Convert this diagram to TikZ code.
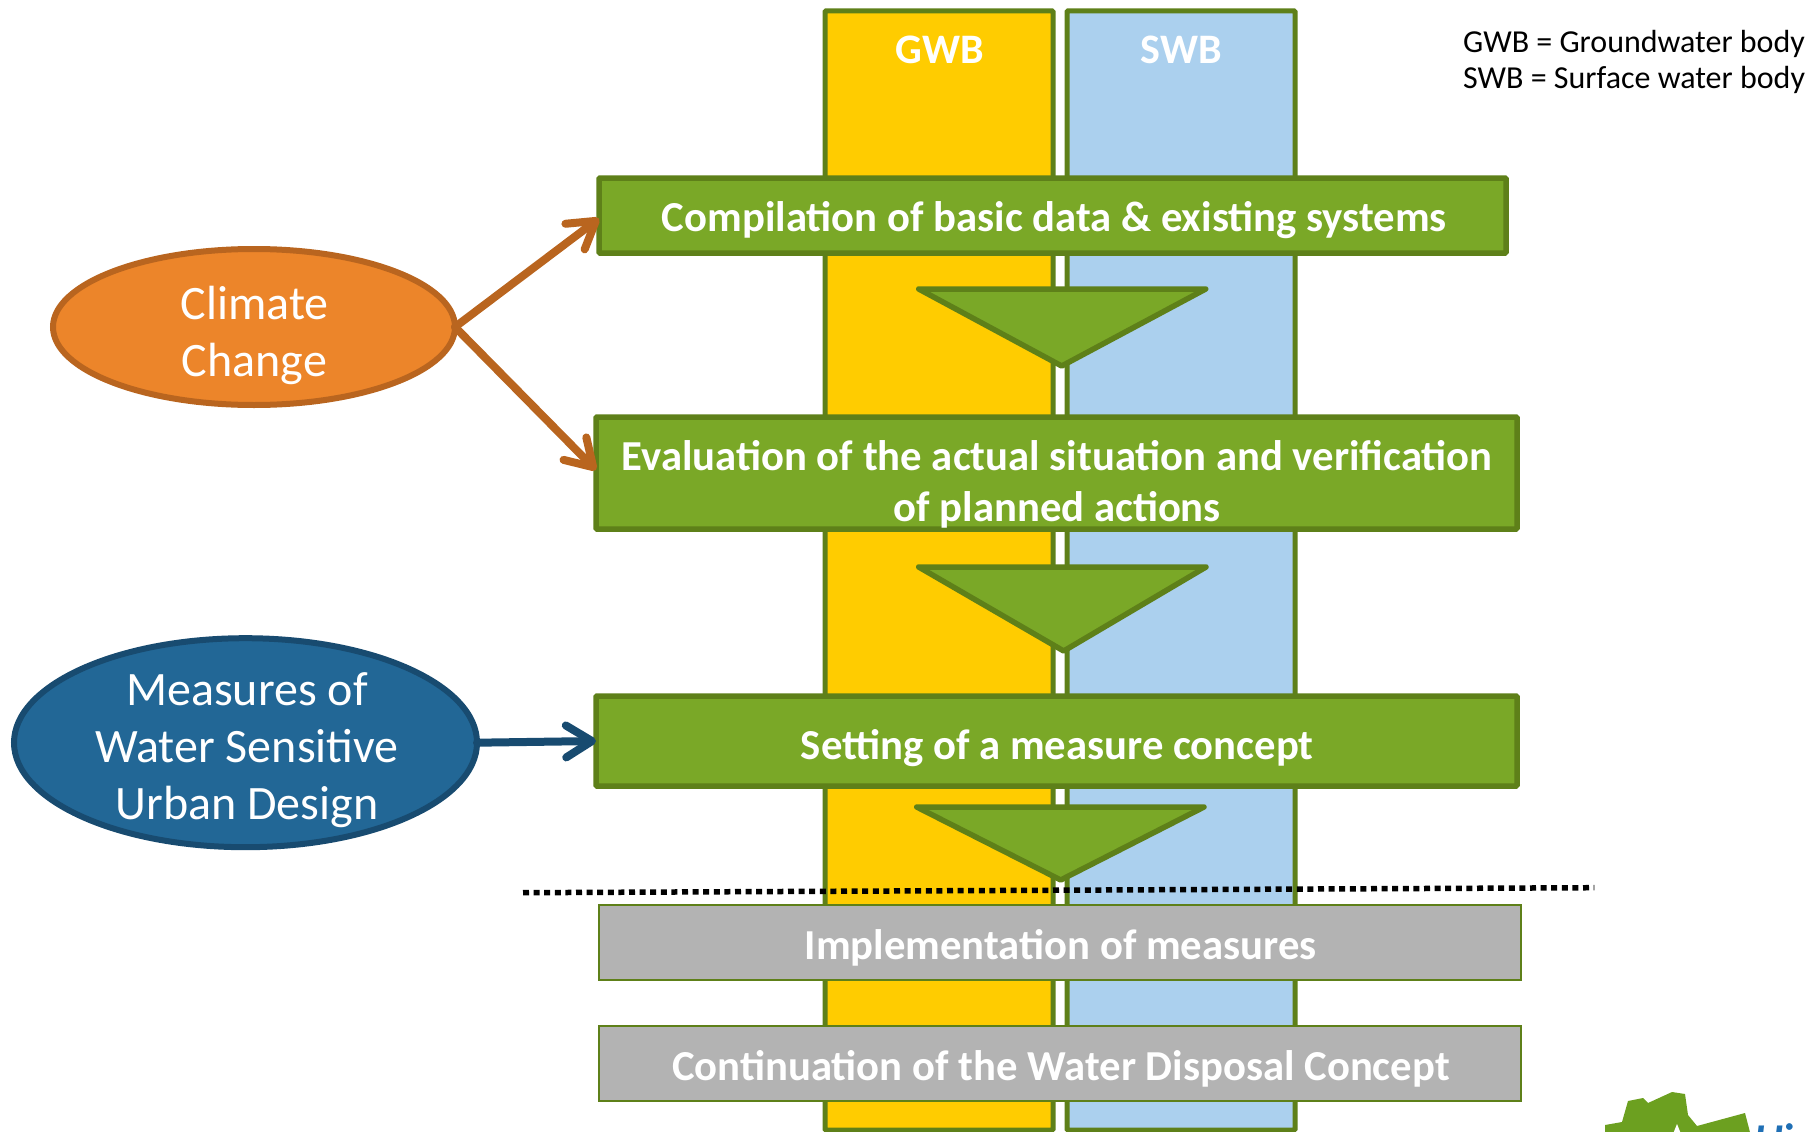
\documentclass[tikz,border=0pt]{standalone}
\usepackage{fontspec}
\setmainfont{Carlito}
\usetikzlibrary{shapes.geometric,arrows.meta}
\definecolor{gstroke}{HTML}{5E8019}
\definecolor{gfill}{HTML}{7AA827}
\definecolor{gwbc}{HTML}{FFCC00}
\definecolor{swbc}{HTML}{ABD0EE}
\definecolor{grayc}{HTML}{B3B3B3}
\definecolor{orf}{HTML}{EC852A}
\definecolor{ors}{HTML}{B9651F}
\definecolor{blf}{HTML}{226796}
\definecolor{bls}{HTML}{184B70}
\definecolor{logog}{HTML}{6CA020}
\definecolor{logob}{HTML}{1F6FB5}
\tikzset{
  col/.style={draw=gstroke,line width=5pt,minimum width=228pt,minimum height=1119pt,inner sep=0pt,outer sep=0pt,rounded corners=1pt},
  collabel/.style={text=white,font=\bfseries\fontsize{42}{50}\selectfont,inner sep=0pt},
  gbox/.style={draw=gstroke,fill=gfill,line width=5.5pt,inner sep=0pt,outer sep=0pt,rounded corners=1pt},
  greybox/.style={draw=gstroke,fill=grayc,line width=2pt,inner sep=0pt,outer sep=0pt},
  boxtext/.style={text=white,font=\bfseries\fontsize{42.7}{51}\selectfont,align=center,inner sep=0pt},
  tri/.style={draw=gstroke,fill=gfill,line width=5.5pt,line join=round},
  oval/.style={ellipse,line width=6pt,inner sep=0pt,outer sep=0pt},
  ovaltext/.style={text=white,font=\fontsize{48}{57}\selectfont,align=center,inner sep=0pt},
  barb/.style={line width=8pt,-{Straight Barb[length=26pt,width=32pt,round,line width=8pt]},line cap=round},
}
\begin{document}
\begin{tikzpicture}[x=1pt,y=-1pt]
\useasboundingbox (0,0) rectangle (1818,1132);
% columns
\node[col,fill=gwbc] (gwb) at (939,570.5) {};
\node[col,fill=swbc] (swb) at (1181,570.5) {};
\node[collabel] (gwbl) at (940,50) {GWB};
\node[collabel] (swbl) at (1181.5,50) {SWB};
% legend
\node[anchor=west,align=left,inner sep=0pt,font=\fontsize{32}{36}\selectfont] (leg) at (1463,61.5) {GWB = Groundwater body\\SWB = Surface water body};
% boxes
\node[gbox,minimum width=907pt,minimum height=75pt] (b1) at (1052.5,215.5) {};
\node[boxtext] (b1t) at (1054.3,220) {Compilation of basic data \& existing systems};
\node[gbox,minimum width=921pt,minimum height=112pt] (b2) at (1056.5,473) {};
\node[boxtext] (b2t) at (1057.2,484) {Evaluation of the actual situation and verification\\of planned actions};
\node[gbox,minimum width=921pt,minimum height=90pt] (b3) at (1056.5,741) {};
\node[boxtext] (b3t) at (1057.3,748) {Setting of a measure concept};
% triangles
\draw[tri] (918.7,289) -- (1205.7,289) -- (1061.7,366) -- cycle;
\draw[tri] (918.7,567) -- (1206,567) -- (1063.7,651) -- cycle;
\draw[tri] (916.7,807) -- (1204,807) -- (1060.7,880) -- cycle;
% dotted line
\coordinate (dl) at (523,892.7);
\coordinate (dr) at (1594.4,887.7);
\draw[line width=5.5pt,dash pattern=on 6pt off 4.6pt] (dl) -- (dr);
% grey boxes
\node[greybox,minimum width=922pt,minimum height=75pt] (b4) at (1060,942) {};
\node[boxtext] (b4t) at (1060.7,948) {Implementation of measures};
\node[greybox,minimum width=922pt,minimum height=75pt] (b5) at (1060,1063) {};
\node[boxtext] (b5t) at (1061,1069) {Continuation of the Water Disposal Concept};
% ovals
\node[oval,draw=ors,fill=orf,minimum width=402pt,minimum height=156pt] (clim) at (254,327) {};
\node[ovaltext] (climt) at (254.5,335) {Climate\\Change};
\node[oval,draw=bls,fill=blf,minimum width=463pt,minimum height=209pt] (wsud) at (245.5,742.7) {};
\node[ovaltext] (wsudt) at (247,750.5) {Measures of\\Water Sensitive\\Urban Design};
% connectors
\draw[barb,draw=ors] (clim.east) -- ([yshift=-3pt]b1.west);
\draw[barb,draw=ors] (clim.east) -- ([yshift=3pt]b2.west);
\draw[barb,draw=bls] (wsud.east) -- (b3.west);
% logo
\begin{scope}
\clip (1590,1082) rectangle (1818,1132);
\fill[logog] (1605,1125) -- (1622,1122) -- (1628,1101) -- (1643,1098) -- (1648,1103) -- (1672,1092) -- (1685,1094) -- (1688,1115) -- (1697,1126) -- (1745,1113) -- (1752,1140) -- (1605,1140) -- cycle;
\fill[white] (1677,1124) -- (1681,1134) -- (1673,1134) -- cycle;
\node[anchor=west,text=logob,inner sep=0pt,font=\bfseries\itshape\fontsize{44}{50}\selectfont] (logot) at (1754,1139) {Ui};
\end{scope}
\end{tikzpicture}
\end{document}
